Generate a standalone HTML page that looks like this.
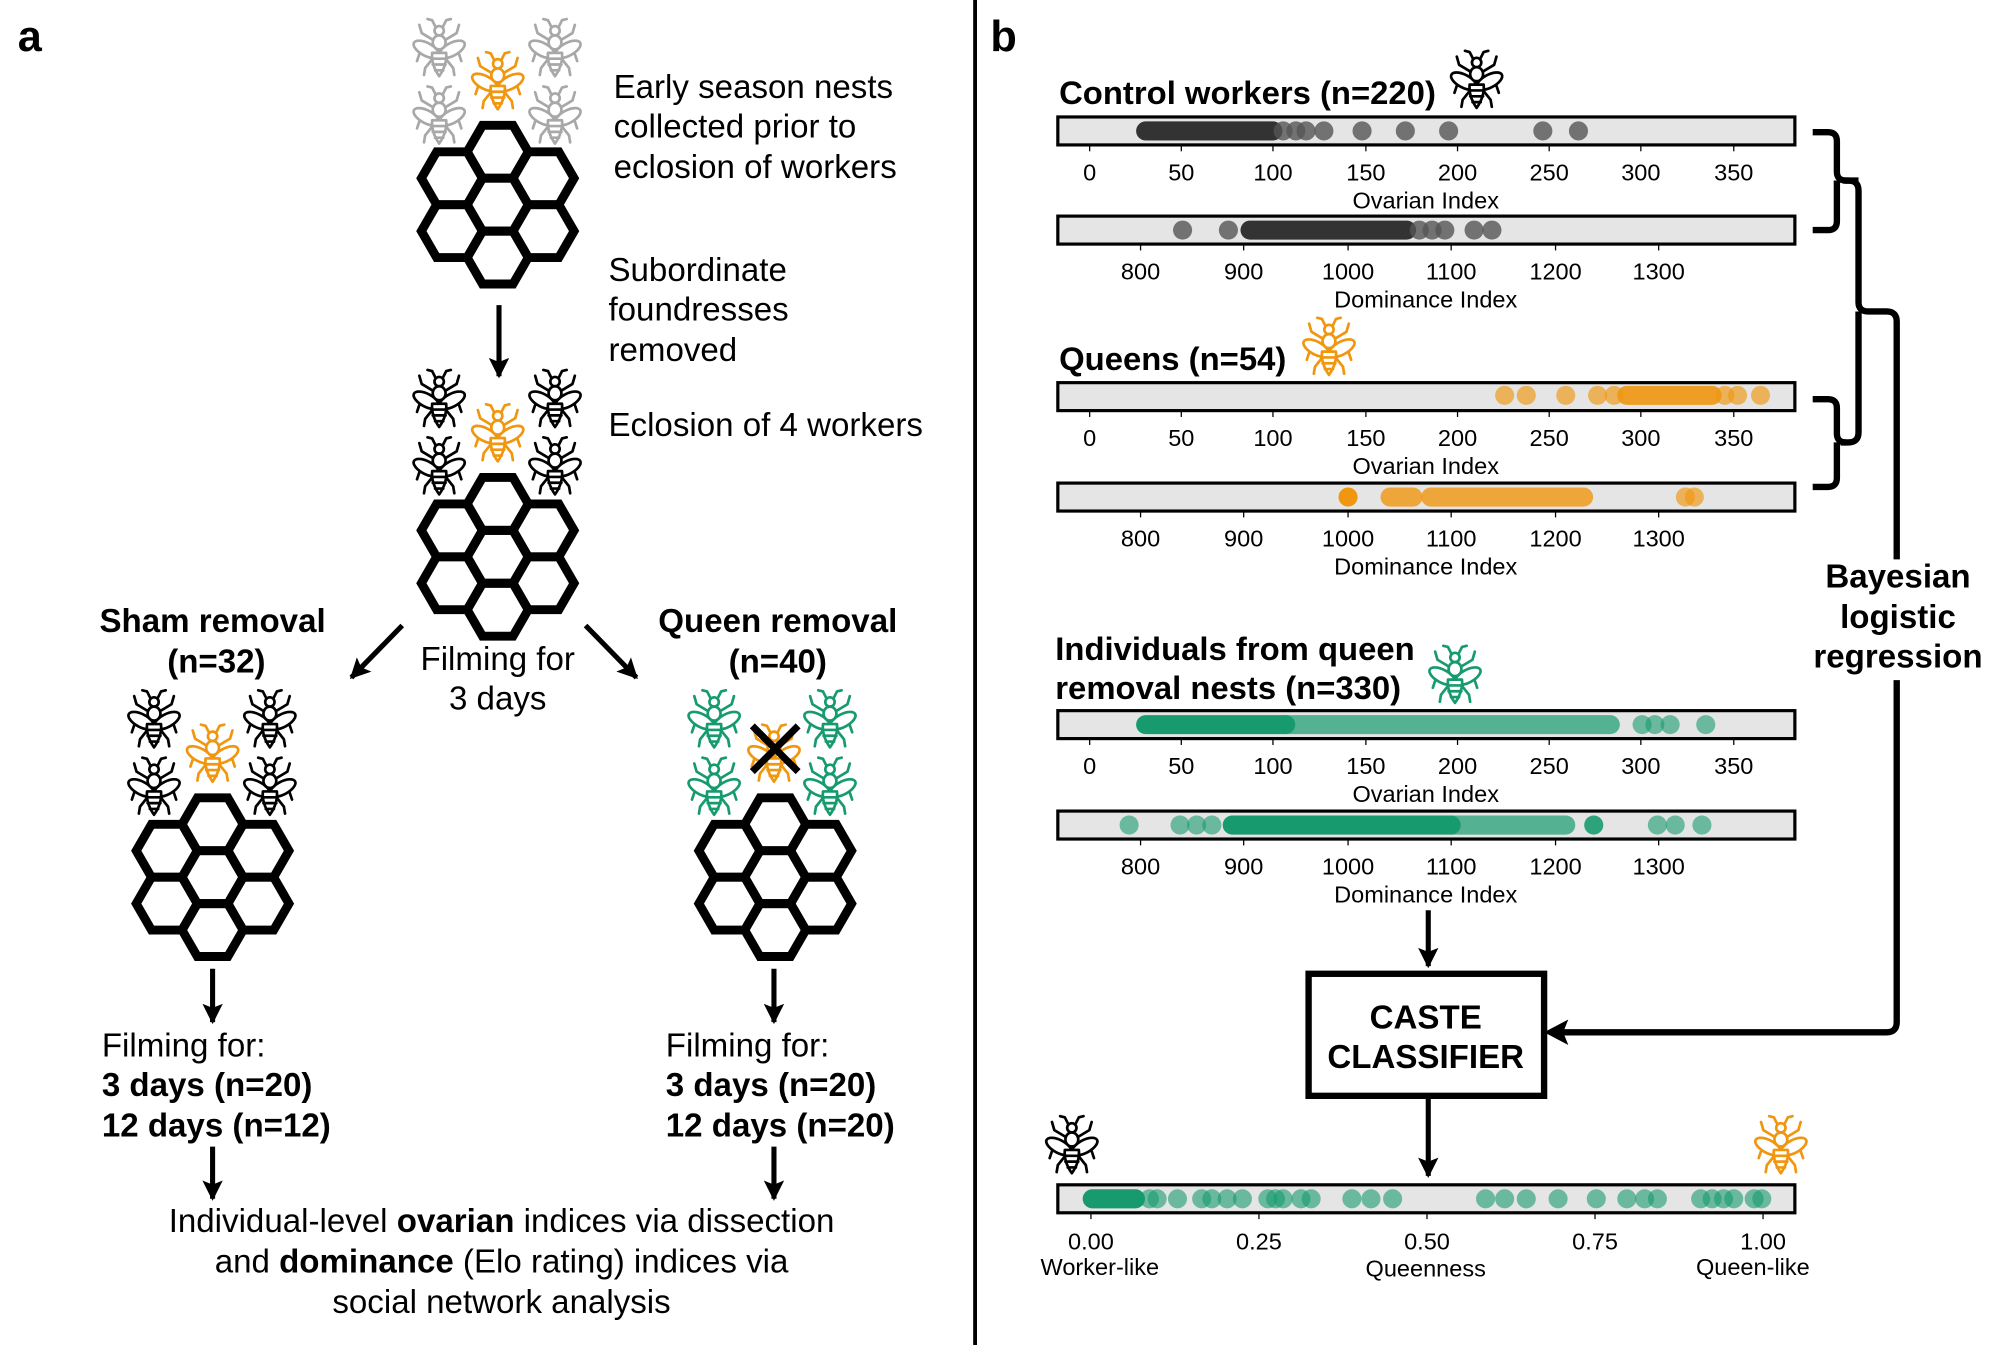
<!DOCTYPE html>
<html><head><meta charset="utf-8"><style>
html,body{margin:0;padding:0;background:#fff}
svg{display:block}
text{font-family:"Liberation Sans",sans-serif}
.t{font-size:26px}
.b{font-weight:bold}
.k{font-size:18.5px;text-anchor:middle}
.c{text-anchor:middle}
.bx{fill:#e5e5e5;stroke:#000;stroke-width:2.5}
.ar{stroke:#000;stroke-width:4;fill:none}
.hx{fill:none;stroke:#000;stroke-width:7;stroke-linejoin:miter}
.br{fill:none;stroke:#000;stroke-width:5;stroke-linejoin:round}
</style></head><body>
<svg width="1996" height="1345" viewBox="0 0 1568 1058" preserveAspectRatio="none" xmlns="http://www.w3.org/2000/svg">
<defs>
<symbol id="w" viewBox="-24 -26 48 52" overflow="visible">
<g stroke="currentColor" stroke-width="2.3" fill="#fff" stroke-linecap="round" stroke-linejoin="round">
<path d="M-3,-17 L-6,-23 L-10,-24 M3,-17 L6,-23 L10,-24" fill="none"/>
<path d="M-5,-6 L-15,-12 L-17,-19 M5,-6 L15,-12 L17,-19 M-5,2 L-17,6 L-19,12 M5,2 L17,6 L19,12 M-4,8 L-12,18 L-13,24 M4,8 L12,18 L13,24" fill="none"/>
<ellipse cx="-11" cy="2" rx="12" ry="5.5" transform="rotate(28 -11 2)"/>
<ellipse cx="11" cy="2" rx="12" ry="5.5" transform="rotate(-28 11 2)"/>
<circle cx="0" cy="-14" r="4"/>
<ellipse cx="0" cy="-4" rx="5.5" ry="6"/>
<path d="M-6,5 Q-7,15 0,25 Q7,15 6,5 Z"/>
<path d="M-6.5,10 H6.5 M-5.5,15 H5.5 M-3.5,20 H3.5" fill="none"/>
</g>
</symbol>
<g id="comb">
<polygon class="hx" points="24,0 12,20.8 -12,20.8 -24,0 -12,-20.8 12,-20.8"/>
<polygon class="hx" transform="translate(0,-41.6)" points="24,0 12,20.8 -12,20.8 -24,0 -12,-20.8 12,-20.8"/>
<polygon class="hx" transform="translate(0,41.6)" points="24,0 12,20.8 -12,20.8 -24,0 -12,-20.8 12,-20.8"/>
<polygon class="hx" transform="translate(-36,-20.8)" points="24,0 12,20.8 -12,20.8 -24,0 -12,-20.8 12,-20.8"/>
<polygon class="hx" transform="translate(-36,20.8)" points="24,0 12,20.8 -12,20.8 -24,0 -12,-20.8 12,-20.8"/>
<polygon class="hx" transform="translate(36,-20.8)" points="24,0 12,20.8 -12,20.8 -24,0 -12,-20.8 12,-20.8"/>
<polygon class="hx" transform="translate(36,20.8)" points="24,0 12,20.8 -12,20.8 -24,0 -12,-20.8 12,-20.8"/>
</g>
<marker id="ah" viewBox="0 0 10 10" refX="9" refY="5" markerWidth="4" markerHeight="4" orient="auto" markerUnits="strokeWidth"><path d="M0,0 L10,5 L0,10 L2,5 Z" fill="#000"/></marker>
</defs>

<text x="14" y="40" font-size="34" class="b">a</text>
<text x="778" y="40" font-size="34" class="b">b</text>
<line x1="766" y1="0" x2="766" y2="1058" stroke="#000" stroke-width="3"/>

<g color="#a8a8a8"><use href="#w" x="323" y="13" width="44" height="48"/><use href="#w" x="414" y="13" width="44" height="48"/><use href="#w" x="323" y="66" width="44" height="48"/><use href="#w" x="414" y="66" width="44" height="48"/></g>
<g color="#f0960f"><use href="#w" x="369" y="39" width="44" height="48"/></g>
<use href="#comb" x="391" y="161"/>
<text class="t" x="482" y="77">Early season nests</text>
<text class="t" x="482" y="108">collected prior to</text>
<text class="t" x="482" y="140">eclosion of workers</text>
<text class="t" x="478" y="221">Subordinate</text>
<text class="t" x="478" y="252">foundresses</text>
<text class="t" x="478" y="284">removed</text>
<line class="ar" x1="392" y1="240" x2="392" y2="296" marker-end="url(#ah)"/>

<g color="#000"><use href="#w" x="323" y="289" width="44" height="48"/><use href="#w" x="414" y="289" width="44" height="48"/><use href="#w" x="323" y="342" width="44" height="48"/><use href="#w" x="414" y="342" width="44" height="48"/></g>
<g color="#f0960f"><use href="#w" x="369" y="316" width="44" height="48"/></g>
<use href="#comb" x="391" y="438"/>
<text class="t" x="478" y="343">Eclosion of 4 workers</text>

<text class="t b c" x="167" y="497">Sham removal</text>
<text class="t b c" x="170" y="529">(n=32)</text>
<text class="t b c" x="611" y="497">Queen removal</text>
<text class="t b c" x="611" y="529">(n=40)</text>
<text class="t c" x="391" y="527">Filming for</text>
<text class="t c" x="391" y="558">3 days</text>
<line class="ar" x1="316" y1="492" x2="276" y2="533" marker-end="url(#ah)"/>
<line class="ar" x1="460" y1="492" x2="500" y2="533" marker-end="url(#ah)"/>

<g color="#000"><use href="#w" x="99" y="541" width="44" height="48"/><use href="#w" x="190" y="541" width="44" height="48"/><use href="#w" x="99" y="594" width="44" height="48"/><use href="#w" x="190" y="594" width="44" height="48"/></g>
<g color="#f0960f"><use href="#w" x="145" y="568" width="44" height="48"/></g>
<use href="#comb" x="167" y="690"/>
<g color="#179b6e"><use href="#w" x="539" y="541" width="44" height="48"/><use href="#w" x="630" y="541" width="44" height="48"/><use href="#w" x="539" y="594" width="44" height="48"/><use href="#w" x="630" y="594" width="44" height="48"/></g>
<g color="#f0960f"><use href="#w" x="586" y="568" width="44" height="48"/></g>
<path d="M591,571 L627,607 M627,571 L591,607" stroke="#000" stroke-width="5.5"/>
<use href="#comb" x="609" y="690"/>

<line class="ar" x1="167" y1="762" x2="167" y2="804" marker-end="url(#ah)"/>
<line class="ar" x1="608" y1="762" x2="608" y2="804" marker-end="url(#ah)"/>
<text class="t" x="80" y="831">Filming for:</text>
<text class="t b" x="80" y="862">3 days (n=20)</text>
<text class="t b" x="80" y="894">12 days (n=12)</text>
<text class="t" x="523" y="831">Filming for:</text>
<text class="t b" x="523" y="862">3 days (n=20)</text>
<text class="t b" x="523" y="894">12 days (n=20)</text>
<line class="ar" x1="167" y1="902" x2="167" y2="943" marker-end="url(#ah)"/>
<line class="ar" x1="608" y1="902" x2="608" y2="943" marker-end="url(#ah)"/>
<text class="t c" x="394" y="969">Individual-level <tspan class="b">ovarian</tspan> indices via dissection</text>
<text class="t c" x="394" y="1001">and <tspan class="b">dominance</tspan> (Elo rating) indices via</text>
<text class="t c" x="394" y="1033">social network analysis</text>

<text x="832" y="82" font-size="25.8" class="b">Control workers (n=220)</text>
<g color="#000"><use href="#w" x="1138" y="38" width="44" height="48"/></g>
<text x="832" y="291" font-size="25.8" class="b">Queens (n=54)</text>
<g color="#f0960f"><use href="#w" x="1022" y="248" width="44" height="48"/></g>
<text x="829" y="519" font-size="25.8" class="b">Individuals from queen</text>
<text x="829" y="550" font-size="25.8" class="b">removal nests (n=330)</text>
<g color="#179b6e"><use href="#w" x="1121" y="506" width="44" height="48"/></g>

<g id="ov1">
<rect class="bx" x="831" y="92" width="579" height="22"/>
<g stroke="#000" stroke-width="1"><line x1="856" y1="114" x2="856" y2="119"/><line x1="928" y1="114" x2="928" y2="119"/><line x1="1000" y1="114" x2="1000" y2="119"/><line x1="1073" y1="114" x2="1073" y2="119"/><line x1="1145" y1="114" x2="1145" y2="119"/><line x1="1217" y1="114" x2="1217" y2="119"/><line x1="1289" y1="114" x2="1289" y2="119"/><line x1="1362" y1="114" x2="1362" y2="119"/></g>
<text class="k" x="856" y="142">0</text><text class="k" x="928" y="142">50</text><text class="k" x="1000" y="142">100</text><text class="k" x="1073" y="142">150</text><text class="k" x="1145" y="142">200</text><text class="k" x="1217" y="142">250</text><text class="k" x="1289" y="142">300</text><text class="k" x="1362" y="142">350</text>
<text class="k" x="1120" y="164">Ovarian Index</text>
</g>
<g id="dm1">
<rect class="bx" x="831" y="170" width="579" height="22"/>
<g stroke="#000" stroke-width="1"><line x1="896" y1="192" x2="896" y2="197"/><line x1="977" y1="192" x2="977" y2="197"/><line x1="1059" y1="192" x2="1059" y2="197"/><line x1="1140" y1="192" x2="1140" y2="197"/><line x1="1222" y1="192" x2="1222" y2="197"/><line x1="1303" y1="192" x2="1303" y2="197"/></g>
<text class="k" x="896" y="220">800</text><text class="k" x="977" y="220">900</text><text class="k" x="1059" y="220">1000</text><text class="k" x="1140" y="220">1100</text><text class="k" x="1222" y="220">1200</text><text class="k" x="1303" y="220">1300</text>
<text class="k" x="1120" y="242">Dominance Index</text>
</g>
<use href="#ov1" y="209"/><use href="#dm1" y="210"/>
<use href="#ov1" y="467"/><use href="#dm1" y="468"/>

<g fill="#555" fill-opacity="0.8">
<line x1="900" y1="103" x2="1000" y2="103" stroke="#333" stroke-width="15" stroke-linecap="round"/>
<circle cx="1008" cy="103" r="7.5"/><circle cx="1018" cy="103" r="7.5"/><circle cx="1026" cy="103" r="7.5"/><circle cx="1040" cy="103" r="7.5"/><circle cx="1070" cy="103" r="7.5"/><circle cx="1104" cy="103" r="7.5"/><circle cx="1138" cy="103" r="7.5"/><circle cx="1212" cy="103" r="7.5"/><circle cx="1240" cy="103" r="7.5"/>
<circle cx="929" cy="181" r="7.5"/><circle cx="965" cy="181" r="7.5"/>
<line x1="982" y1="181" x2="1105" y2="181" stroke="#333" stroke-width="15" stroke-linecap="round"/>
<circle cx="1115" cy="181" r="7.5"/><circle cx="1125" cy="181" r="7.5"/><circle cx="1135" cy="181" r="7.5"/><circle cx="1158" cy="181" r="7.5"/><circle cx="1172" cy="181" r="7.5"/>
</g>
<g fill="#f0960f" fill-opacity="0.65">
<circle cx="1182" cy="311" r="7.5"/><circle cx="1199" cy="311" r="7.5"/><circle cx="1230" cy="311" r="7.5"/><circle cx="1255" cy="311" r="7.5"/><circle cx="1268" cy="311" r="7.5"/>
<line x1="1278" y1="311" x2="1345" y2="311" stroke="#f0960f" stroke-opacity="0.9" stroke-width="15" stroke-linecap="round"/>
<circle cx="1355" cy="311" r="7.5"/><circle cx="1365" cy="311" r="7.5"/><circle cx="1383" cy="311" r="7.5"/>
<circle cx="1059" cy="391" r="7.5" fill-opacity="1"/>
<line x1="1092" y1="391" x2="1110" y2="391" stroke="#f0960f" stroke-opacity="0.8" stroke-width="15" stroke-linecap="round"/>
<line x1="1124" y1="391" x2="1244" y2="391" stroke="#f0960f" stroke-opacity="0.8" stroke-width="15" stroke-linecap="round"/>
<circle cx="1324" cy="391" r="7.5"/><circle cx="1331" cy="391" r="7.5"/>
</g>
<g fill="#179b6e" fill-opacity="0.6">
<line x1="900" y1="570" x2="1010" y2="570" stroke="#179b6e" stroke-width="15" stroke-linecap="round"/>
<line x1="1010" y1="570" x2="1265" y2="570" stroke="#179b6e" stroke-opacity="0.7" stroke-width="15" stroke-linecap="round"/>
<circle cx="1290" cy="570" r="7.5"/><circle cx="1300" cy="570" r="7.5"/><circle cx="1312" cy="570" r="7.5"/><circle cx="1340" cy="570" r="7.5"/>
<circle cx="887" cy="649" r="7.5"/><circle cx="927" cy="649" r="7.5"/><circle cx="940" cy="649" r="7.5"/><circle cx="952" cy="649" r="7.5"/>
<line x1="968" y1="649" x2="1140" y2="649" stroke="#179b6e" stroke-width="15" stroke-linecap="round"/>
<line x1="1140" y1="649" x2="1230" y2="649" stroke="#179b6e" stroke-opacity="0.7" stroke-width="15" stroke-linecap="round"/>
<circle cx="1252" cy="649" r="7.5" fill-opacity="0.9"/><circle cx="1302" cy="649" r="7.5"/><circle cx="1316" cy="649" r="7.5"/><circle cx="1337" cy="649" r="7.5"/>
</g>

<line class="ar" x1="1122" y1="716" x2="1122" y2="760" marker-end="url(#ah)"/>
<rect x="1028" y="766" width="185" height="96" fill="#fff" stroke="#000" stroke-width="5"/>
<text class="t b c" x="1120" y="809">CASTE</text>
<text class="t b c" x="1120" y="840">CLASSIFIER</text>
<line class="ar" x1="1122" y1="862" x2="1122" y2="925" marker-end="url(#ah)"/>

<g color="#000"><use href="#w" x="820" y="876" width="44" height="48"/></g>
<g color="#f0960f"><use href="#w" x="1377" y="876" width="44" height="48"/></g>
<rect class="bx" x="831" y="932" width="579" height="22"/>
<g stroke="#000" stroke-width="1"><line x1="857" y1="954" x2="857" y2="959"/><line x1="989" y1="954" x2="989" y2="959"/><line x1="1121" y1="954" x2="1121" y2="959"/><line x1="1253" y1="954" x2="1253" y2="959"/><line x1="1385" y1="954" x2="1385" y2="959"/></g>
<text class="k" x="857" y="983">0.00</text><text class="k" x="989" y="983">0.25</text><text class="k" x="1121" y="983">0.50</text><text class="k" x="1253" y="983">0.75</text><text class="k" x="1385" y="983">1.00</text>
<text class="k" x="864" y="1003">Worker-like</text><text class="k" x="1120" y="1004">Queenness</text><text class="k" x="1377" y="1003">Queen-like</text>
<g fill="#179b6e" fill-opacity="0.6">
<line x1="858" y1="943" x2="892" y2="943" stroke="#179b6e" stroke-width="15" stroke-linecap="round"/>
<circle cx="903" cy="943" r="7.5"/><circle cx="909" cy="943" r="7.5"/><circle cx="925" cy="943" r="7.5"/><circle cx="944" cy="943" r="7.5"/><circle cx="952" cy="943" r="7.5"/><circle cx="964" cy="943" r="7.5"/><circle cx="976" cy="943" r="7.5"/><circle cx="996" cy="943" r="7.5"/><circle cx="1002" cy="943" r="7.5"/><circle cx="1008" cy="943" r="7.5"/><circle cx="1022" cy="943" r="7.5"/><circle cx="1030" cy="943" r="7.5"/><circle cx="1062" cy="943" r="7.5"/><circle cx="1077" cy="943" r="7.5"/><circle cx="1094" cy="943" r="7.5"/><circle cx="1167" cy="943" r="7.5"/><circle cx="1182" cy="943" r="7.5"/><circle cx="1199" cy="943" r="7.5"/><circle cx="1224" cy="943" r="7.5"/><circle cx="1254" cy="943" r="7.5"/><circle cx="1278" cy="943" r="7.5"/><circle cx="1292" cy="943" r="7.5"/><circle cx="1302" cy="943" r="7.5"/><circle cx="1336" cy="943" r="7.5"/><circle cx="1345" cy="943" r="7.5"/><circle cx="1354" cy="943" r="7.5"/><circle cx="1362" cy="943" r="7.5"/><circle cx="1378" cy="943" r="7.5"/><circle cx="1384" cy="943" r="7.5"/>
</g>

<path class="br" d="M1424,104 H1436 Q1443,104 1443,111 V135 Q1443,142 1450,142 H1460 M1443,142 V174 Q1443,181 1436,181 H1424"/>
<path class="br" d="M1424,314 H1436 Q1443,314 1443,321 V341 Q1443,348 1450,348 M1443,348 V376 Q1443,383 1436,383 H1424"/>
<path class="br" d="M1448,142 H1452 Q1460,142 1460,150 V238 Q1460,245 1468,245 H1482 Q1490,245 1490,253 V440 M1460,245 V340 Q1460,348 1452,348 H1446"/>
<path class="br" d="M1490,535 V804 Q1490,812 1482,812 H1222"/>
<path d="M1213,812 L1232,802 L1228,812 L1232,822 Z" fill="#000"/>
<text class="t b c" x="1491" y="462">Bayesian</text>
<text class="t b c" x="1491" y="494">logistic</text>
<text class="t b c" x="1491" y="525">regression</text>
</svg>
</body></html>
